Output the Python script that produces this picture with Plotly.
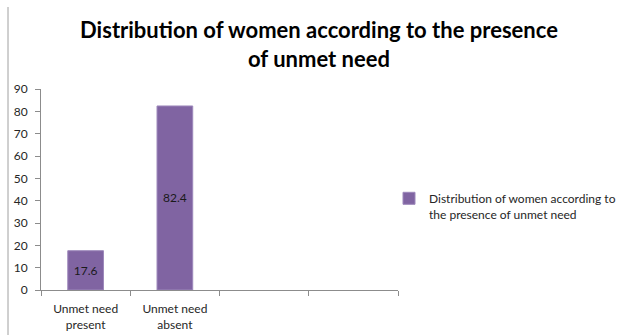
import plotly.graph_objects as go

categories = ["Unmet need<br>present", "Unmet need<br>absent"]
values = [17.6, 82.4]
value_labels = ["17.6", "82.4"]
series_name = "Distribution of women according to<br>the presence of unmet need"
title_text = "Distribution of women according to the presence<br>of unmet need"
y_ticks = [0, 10, 20, 30, 40, 50, 60, 70, 80, 90]

W, H = 619, 335
L, R, T, B = 41, 221, 89, 45
pw, ph = W - L - R, H - T - B

FONT = "Lato, Calibri, sans-serif"

fig = go.Figure()
fig.add_trace(go.Bar(
    x=list(range(len(categories))),
    y=values,
    name=series_name,
    text=value_labels,
    textposition="inside",
    insidetextanchor="middle",
    textfont=dict(family=FONT, size=12, color="#1a1a1a"),
    textangle=0,
    marker=dict(color="#8064A2", line=dict(color="#9d88bb", width=1)),
    width=0.4,
    showlegend=True,
))

fig.update_layout(
    width=W, height=H,
    margin=dict(l=L, r=R, t=T, b=B, autoexpand=False),
    paper_bgcolor="white", plot_bgcolor="white",
    font=dict(family=FONT, size=12, color="#262626"),
    title=dict(text=title_text, x=319 / W, xanchor="center",
               y=1 - 38 / H, yanchor="bottom",
               font=dict(family=FONT, size=22, color="#000000", weight="bold")),
    xaxis=dict(
        range=[-0.5, 3.5],
        tickvals=list(range(len(categories))), ticktext=categories,
        ticks="", showgrid=False, zeroline=False,
        showline=True, linecolor="#8c8c8c", linewidth=1,
        ticklabelstandoff=8,
        tickfont=dict(family=FONT, size=12, color="#262626"),
        minor=dict(tick0=-0.5, dtick=1, ticks="outside", ticklen=5,
                   tickcolor="#8c8c8c", showgrid=False),
        fixedrange=True,
    ),
    yaxis=dict(
        range=[0, 90], tickvals=y_ticks,
        ticks="outside", ticklen=5, tickcolor="#8c8c8c",
        showgrid=False, zeroline=False,
        showline=True, linecolor="#8c8c8c", linewidth=1,
        ticklabelstandoff=5,
        tickfont=dict(family=FONT, size=12, color="#262626"),
        fixedrange=True,
    ),
    legend=dict(
        x=(389 - L) / pw, xanchor="left",
        y=(H - B - 184) / ph, yanchor="top",
        valign="top",
        font=dict(family=FONT, size=12, color="#262626"),
        bgcolor="rgba(0,0,0,0)", borderwidth=0,
        itemwidth=30,
    ),
    shapes=[dict(type="line", xref="paper", yref="paper",
                 x0=(8 - L) / pw, x1=(8 - L) / pw,
                 y0=(H - B - 7) / ph, y1=(H - B - H) / ph,
                 line=dict(color="#a0a0a0", width=1))],
)

fig.write_html("out.html")
